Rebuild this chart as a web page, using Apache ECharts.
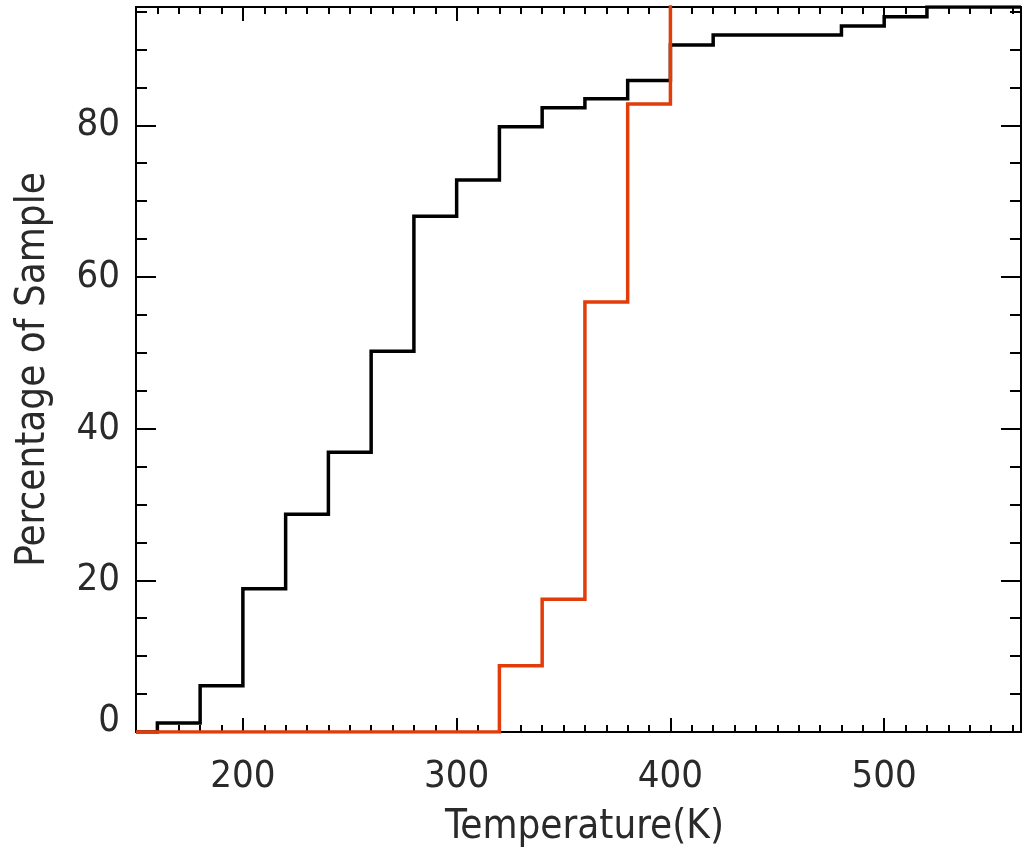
<!DOCTYPE html>
<html>
<head>
<meta charset="utf-8">
<script src="https://cdn.jsdelivr.net/npm/echarts@6/dist/echarts.min.js"></script>
<style>
html,body{margin:0;padding:0;background:#fff;}
#chart{width:1022px;height:853px;}
</style>
</head>
<body>
<div id="chart"></div>
<script>
// ---- data ----
var xMin = 150, xMax = 564;
var yMin = 0, yMax = 95.6;
var xMajorTicks = [200, 300, 400, 500];
var xMinorTicks = [160,170,180,190,210,220,230,240,250,260,270,280,290,310,320,330,340,350,360,370,380,390,410,420,430,440,450,460,470,480,490,510,520,530,540,550,560];
var yMajorTicks = [0, 20, 40, 60, 80];
var yMinorTicks = [5,10,15,25,30,35,45,50,55,65,70,75,85,90,95];

// black: left edges of steps and cumulative percentage
var blackX = [150, 160, 180, 200, 220, 240, 260, 280, 300, 320, 340, 360, 380, 400, 420, 480, 500, 520, 564];
var blackY = [0, 1.2, 6.1, 18.9, 28.7, 36.9, 50.2, 68.0, 72.8, 79.8, 82.3, 83.5, 85.9, 90.6, 91.9, 93.1, 94.3, 95.6, 95.6];
// red
var redX = [150, 320, 340, 360, 380, 400];
var redY = [0, 8.75, 17.5, 56.7, 82.8, 100];

function zip(a, b) { return a.map(function (v, i) { return [v, b[i]]; }); }

var FONT = '"DejaVu Sans Condensed", "DejaVu Sans", sans-serif';
var TXT = '#2a2a2a';
var TICK_FS = 38, TITLE_FS = 40;

function xAx(pos, ticks, len, labels, extra) {
  var o = {
    type: 'value', min: xMin, max: xMax, position: pos,
    axisLine: { show: true, onZero: false, lineStyle: { color: '#000', width: 2 } },
    axisTick: { show: true, inside: true, length: len, customValues: ticks, lineStyle: { color: '#000', width: 2 } },
    axisLabel: labels ? { show: true, customValues: labels, fontFamily: FONT, fontSize: TICK_FS, color: TXT, margin: 26 } : { show: false },
    splitLine: { show: false }
  };
  return Object.assign(o, extra || {});
}
function yAx(pos, ticks, len, labels, extra) {
  var o = {
    type: 'value', min: yMin, max: yMax, position: pos,
    axisLine: { show: true, onZero: false, lineStyle: { color: '#000', width: 2 } },
    axisTick: { show: true, inside: true, length: len, customValues: ticks, lineStyle: { color: '#000', width: 2 } },
    axisLabel: labels ? {
      show: true, customValues: labels, fontFamily: FONT, fontSize: TICK_FS, color: TXT, margin: 16,
      formatter: function (v) { return v === 0 ? '{z|0}' : String(v); },
      rich: { z: { fontFamily: FONT, fontSize: TICK_FS, color: TXT, padding: [0, 0, 22, 0] } }
    } : { show: false },
    splitLine: { show: false }
  };
  return Object.assign(o, extra || {});
}

var chart = echarts.init(document.getElementById('chart'), null, { renderer: 'canvas' });
chart.setOption({
  animation: false,
  backgroundColor: '#fff',
  grid: { left: 136, right: 1, top: 7, bottom: 118, containLabel: false },
  xAxis: [
    xAx('bottom', xMajorTicks, 14, xMajorTicks, {
      name: 'Temperature(K)', nameLocation: 'middle', nameGap: 76,
      nameTextStyle: { fontFamily: FONT, fontSize: TITLE_FS, color: TXT, padding: [0, 0, 0, 12] }
    }),
    xAx('bottom', xMinorTicks, 7, null),
    xAx('top', xMajorTicks, 14, null),
    xAx('top', xMinorTicks, 7, null)
  ],
  yAxis: [
    yAx('left', yMajorTicks, 20, yMajorTicks, {
      name: 'Percentage of Sample', nameLocation: 'middle', nameGap: 82,
      nameTextStyle: { fontFamily: FONT, fontSize: TITLE_FS, color: TXT }
    }),
    yAx('left', yMinorTicks, 11, null),
    yAx('right', yMajorTicks, 20, null),
    yAx('right', yMinorTicks, 11, null)
  ],
  series: [
    {
      type: 'line', step: 'end', xAxisIndex: 0, yAxisIndex: 0,
      data: zip(blackX, blackY), symbol: 'none', clip: true,
      lineStyle: { color: '#000', width: 3.5, join: 'miter', cap: 'butt' }, z: 3
    },
    {
      type: 'line', step: 'end', xAxisIndex: 0, yAxisIndex: 0,
      data: zip(redX, redY), symbol: 'none', clip: true,
      lineStyle: { color: '#e23c0a', width: 3.5, join: 'miter', cap: 'butt' }, z: 4
    }
  ]
});
</script>
</body>
</html>
